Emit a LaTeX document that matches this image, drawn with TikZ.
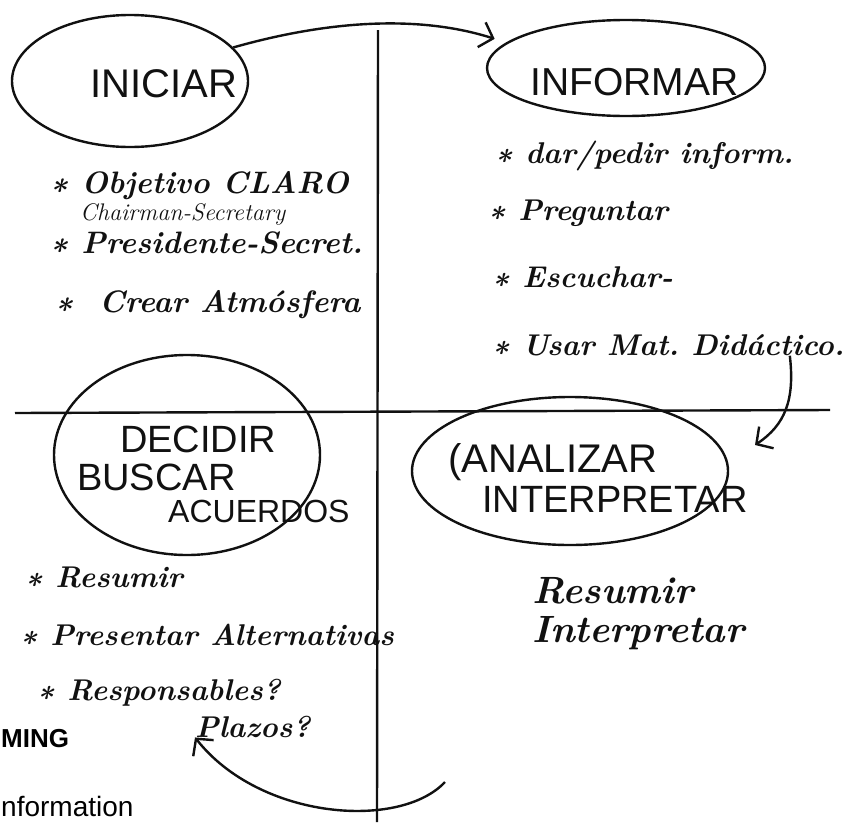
\documentclass[tikz,border=0pt]{standalone}
\usepackage{fontspec}
\setsansfont{Liberation Sans}
\usepackage{tikz}
\usetikzlibrary{arrows.meta,positioning,calc,shapes.geometric}
\usepackage{xcolor}
\definecolor{Ink}{HTML}{111111}

\tikzset{
  bubble/.style={draw=Ink,ellipse,line width=2.4pt,inner sep=0pt},
  caps/.style={anchor=base west,inner sep=0pt,text=Ink,font=\sffamily\fontsize{38}{40}\selectfont},
  item/.style={anchor=base west,inner sep=0pt,text=Ink,font=\bfseries\itshape\fontsize{31}{33}\selectfont},
  flow/.style={draw=Ink,line width=2.4pt,-{Straight Barb[length=12pt,width=26pt]}}
}

\begin{document}
\begin{tikzpicture}[x=1pt,y=-1pt]
\useasboundingbox (0,0) rectangle (850,822);
% cross
\draw[Ink,line width=2.4pt] (378,30) -- (377,822);
\draw[Ink,line width=2.4pt] (15,413) -- (830,410);
% bubbles
\node[bubble,minimum width=236pt,minimum height=132pt] (iniciar) at (130,81) {};
\node[bubble,minimum width=278pt,minimum height=96pt] (informar) at (626,68) {};
\node[bubble,minimum width=266pt,minimum height=200pt] (decidir) at (187,455) {};
\node[bubble,minimum width=316pt,minimum height=148pt] (analizar) at (570,471) {};
\node[caps,font=\sffamily\fontsize{40}{42}\selectfont] (iniciartxt) at (90,97) {INICIAR};
\node[caps,font=\sffamily\fontsize{39}{41}\selectfont] (informartxt) at (530,95) {INFORMAR};
\node[caps] (decidirtxt) at (120,452) {DECIDIR};
\node[caps] (buscartxt) at (77,490) {BUSCAR};
\node[caps,font=\sffamily\fontsize{32}{34}\selectfont] (acuerdostxt) at (168,522) {ACUERDOS};
\node[caps,font=\sffamily\fontsize{40}{42}\selectfont] (analizartxt) at (448,472) {(ANALIZAR};
\node[caps] (interpretartxt) at (482,512) {INTERPRETAR};
% lists
\node[item] (objetivo) at (50,193) {\textasteriskcentered\ Objetivo CLARO};
\node[item,font=\itshape\fontsize{24}{26}\selectfont] (chairman) at (80,220) {Chairman-Secretary};
\node[item] (presidente) at (50,253) {\textasteriskcentered\ Presidente-Secret.};
\node[item] (crear) at (55,312) {\textasteriskcentered\ \ Crear Atmósfera};
\foreach \n/\x/\y/\s in {1/495/163/{dar/pedir inform.},2/488/220/Preguntar,3/492/287/Escuchar-,4/492/355/{Usar Mat.\ Didáctico.}}
  \node[item,font=\bfseries\itshape\fontsize{30}{32}\selectfont] (inf\n) at (\x,\y) {\textasteriskcentered\ \s};
\foreach \n/\x/\y/\s in {1/25/587/Resumir,2/20/645/{Presentar Alternativas},3/37/700/Responsables?}
  \node[item,font=\bfseries\itshape\fontsize{30}{32}\selectfont] (dec\n) at (\x,\y) {\textasteriskcentered\ \s};
\node[item,font=\bfseries\itshape\fontsize{30}{32}\selectfont] (plazos) at (195,737) {Plazos?};
\node[item,font=\bfseries\itshape\fontsize{38}{40}\selectfont] (resumir) at (532,603) {Resumir};
\node[item,font=\bfseries\itshape\fontsize{38}{40}\selectfont] (interpretar) at (532,642) {Interpretar};
% printed text behind
\node[anchor=base west,inner sep=0pt,font=\sffamily\bfseries\fontsize{26}{28}\selectfont] (ming) at (1,747) {MING};
\node[anchor=base west,inner sep=0pt,font=\sffamily\fontsize{28}{30}\selectfont] (information) at (1,816) {nformation};
% arrows
\coordinate (loopstart) at (445,782);
\draw[flow,shorten >=12pt] (iniciar.18) .. controls (330,20) and (420,15) .. (informar.168);
\draw[flow] ([xshift=-55pt]inf4.south east) .. controls (795,400) and (785,425) .. (755,445);
\draw[flow] (loopstart) .. controls (400,830) and (260,820) .. (plazos.south west);
\end{tikzpicture}
\end{document}
